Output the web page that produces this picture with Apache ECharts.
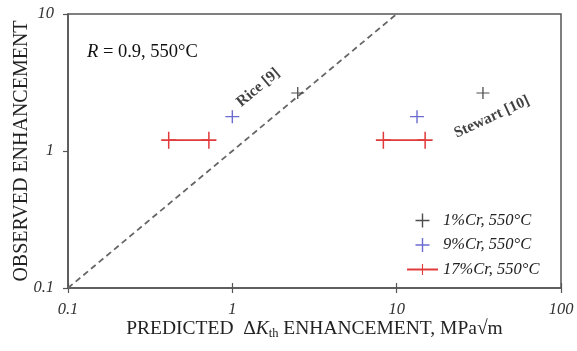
<!DOCTYPE html>
<html>
<head>
<meta charset="utf-8">
<script src="https://cdn.jsdelivr.net/npm/echarts@6/dist/echarts.min.js"></script>
<style>
  html, body { margin: 0; padding: 0; background: #fff; }
  #chart { width: 577px; height: 351px; }
</style>
</head>
<body>
<div id="chart"></div>
<script>
// Observed vs predicted threshold enhancement, R = 0.9 at 550 °C
const cr1Points = [[2.5, 2.65], [33.5, 2.65]];
const cr9Points = [[1.0, 1.78], [13.3, 1.78]];
const cr17RiceRange = [[0.41, 1.2], [0.72, 1.2]];
const cr17StewartRange = [[8.3, 1.2], [14.9, 1.2]];
const parityLine = [[0.1, 0.1], [10, 10]];
const modelNotes = [
  { name: 'Rice [9]', value: [1.44, 2.9], rotate: 40 },
  { name: 'Stewart [10]', value: [38, 1.77], rotate: 25 }
];
const xTicks = [0.1, 1, 10, 100];
const yTicks = [0.1, 1, 10];
const seriesNames = ['1%Cr, 550°C', '9%Cr, 550°C', '17%Cr, 550°C'];

const serif = '"Liberation Serif", "DejaVu Serif", serif';
const plus = 'path://M0,5.4 L12,5.4 L12,6.6 L0,6.6 Z M5.4,0 L6.6,0 L6.6,12 L5.4,12 Z';
const axisColor = '#555';

const chart = echarts.init(document.getElementById('chart'), null, { renderer: 'canvas' });

const tickFmt = v => {
  const hit = xTicks.concat(yTicks).find(t => Math.abs(t - v) / t < 1e-6);
  return hit !== undefined ? String(hit) : '';
};

chart.setOption({
  animation: false,
  grid: {
    left: 68, right: 16, top: 14, bottom: 63,
    containLabel: false, outerBoundsMode: 'none',
    show: true, borderColor: axisColor, borderWidth: 1.5, backgroundColor: 'transparent'
  },
  xAxis: [{
    type: 'log', logBase: 10, min: 0.1, max: 100,
    name: '{t|PREDICTED  Δ}{k|K}{s|th}{t| ENHANCEMENT, MPa√m}',
    nameLocation: 'middle', nameGap: 30, nameMoveOverlap: false,
    nameTextStyle: {
      rich: {
        t: { fontFamily: serif, fontSize: 19.5, color: '#222' },
        k: { fontFamily: serif, fontSize: 19.5, fontStyle: 'italic', color: '#222' },
        s: { fontFamily: serif, fontSize: 12.5, color: '#222', padding: [9, 0, 0, 0] }
      }
    },
    axisLine: { show: true, lineStyle: { color: axisColor, width: 1.5 } },
    axisTick: { show: true, inside: false, length: 5, lineStyle: { color: axisColor, width: 1.2 } },
    minorTick: { show: false },
    splitLine: { show: false },
    axisLabel: {
      margin: 13, formatter: tickFmt,
      fontFamily: serif, fontStyle: 'italic', fontSize: 16.5, color: '#333'
    }
  }, {
    type: 'log', logBase: 10, min: 0.1, max: 100, position: 'bottom',
    axisLine: { show: false },
    axisTick: { show: true, inside: true, length: 5, lineStyle: { color: axisColor, width: 1.2 } },
    axisLabel: { show: false },
    splitLine: { show: false }
  }],
  yAxis: {
    type: 'log', logBase: 10, min: 0.1, max: 10,
    name: 'OBSERVED ENHANCEMENT',
    nameLocation: 'middle', nameGap: 36, nameMoveOverlap: false,
    nameTextStyle: { fontFamily: serif, fontSize: 20, color: '#222' },
    axisLine: { show: true, lineStyle: { color: axisColor, width: 1.5 } },
    axisTick: { show: true, inside: false, length: 5, lineStyle: { color: axisColor, width: 1.2 } },
    splitLine: { show: false },
    axisLabel: {
      margin: 14, formatter: tickFmt,
      fontFamily: serif, fontStyle: 'italic', fontSize: 16.5, color: '#333'
    }
  },
  legend: {
    orient: 'vertical', left: 401, top: 207,
    itemWidth: 31, itemHeight: 14, itemGap: 7.5,
    data: seriesNames,
    textStyle: { fontFamily: serif, fontStyle: 'italic', fontSize: 16.5, color: '#222' }
  },
  graphic: [{
    type: 'text', left: 87, top: 43,
    style: {
      rich: {
        i: { fontFamily: serif, fontStyle: 'italic', fontSize: 18.5, fill: '#111' },
        r: { fontFamily: serif, fontSize: 18.5, fill: '#111' }
      },
      text: '{i|R}{r| = 0.9, 550°C}'
    }
  }],
  series: [
    {
      name: 'parity', type: 'line', data: parityLine, symbol: 'none', silent: true,
      lineStyle: { color: '#666', width: 1.8, type: [6, 4] }, z: 1
    },
    {
      name: seriesNames[0], type: 'scatter', data: cr1Points,
      symbol: plus, symbolSize: [13, 12], itemStyle: { color: '#222' }, z: 3
    },
    {
      name: seriesNames[1], type: 'scatter', data: cr9Points,
      symbol: plus, symbolSize: [14, 13], itemStyle: { color: '#4646c4' }, z: 3
    },
    {
      name: seriesNames[2], type: 'line', data: cr17RiceRange,
      symbol: plus, symbolSize: [15, 17], showSymbol: true,
      itemStyle: { color: '#e03a3a' }, lineStyle: { color: '#e03a3a', width: 1.6 }, z: 3
    },
    {
      name: seriesNames[2], type: 'line', data: cr17StewartRange,
      symbol: plus, symbolSize: [15, 17], showSymbol: true,
      itemStyle: { color: '#e03a3a' }, lineStyle: { color: '#e03a3a', width: 1.6 }, z: 3
    },
    {
      name: 'notes', type: 'scatter', symbolSize: 0, silent: true, z: 4,
      data: modelNotes.map(n => ({
        name: n.name, value: n.value,
        label: { rotate: n.rotate }
      })),
      label: {
        show: true, position: 'inside', formatter: '{b}',
        fontFamily: serif, fontWeight: 'bold', fontSize: 15.5, color: '#111'
      }
    }
  ]
});
</script>
</body>
</html>
